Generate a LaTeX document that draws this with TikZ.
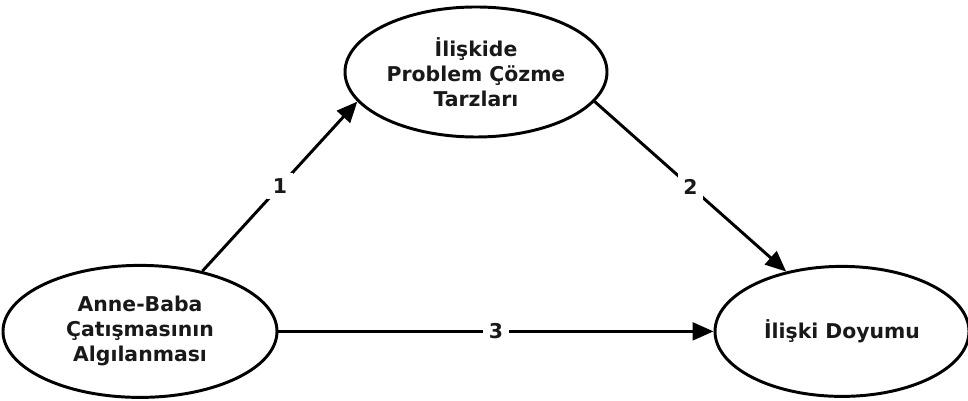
\documentclass[tikz,border=0pt]{standalone}
\usepackage{fontspec}
\setmainfont{DejaVu Sans}
\usetikzlibrary{arrows.meta,positioning,shapes.geometric}
\definecolor{ModelLine}{RGB}{0,0,0}
\definecolor{ModelText}{RGB}{25,25,25}
\tikzset{
  degisken/.style={ellipse, draw=ModelLine, line width=2.1pt, fill=white, inner sep=0pt,
                align=center, text=ModelText, font=\bfseries\fontsize{14.5}{17.8}\selectfont},
  yol/.style={-{Triangle[length=5.2mm,width=4.4mm]}, line width=2.1pt, ModelLine},
  etiket/.style={font=\bfseries\fontsize{14.5}{16}\selectfont, text=ModelText, fill=white, inner sep=4pt},
}

\begin{document}
\begin{tikzpicture}

  \useasboundingbox (0,0) rectangle (24.2,10.025);

  % --- Değişkenler ---------------------------------------------------------
  \node[degisken, minimum width=6.55cm, minimum height=3.25cm] (cozum)   at (11.9, 8.225) {İlişkide\\Problem Çözme\\Tarzları};
  \node[degisken, minimum width=6.85cm, minimum height=3.3cm]  (catisma) at (3.5, 1.74)   {Anne-Baba\\Çatışmasının\\Algılanması};
  \node[degisken, minimum width=6.35cm, minimum height=3.25cm] (doyum)   at (21.05, 1.74) {İlişki Doyumu};

  % --- Yollar ----------------------------------------------------------------
  \draw[yol] (catisma.44.5) -- node[etiket]{1} (cozum.194.6);
  \draw[yol] (cozum.-14.8)  -- node[etiket]{2} (doyum.133);
  \draw[yol] (catisma.east) -- node[etiket]{3} (doyum.west);

\end{tikzpicture}
\end{document}
